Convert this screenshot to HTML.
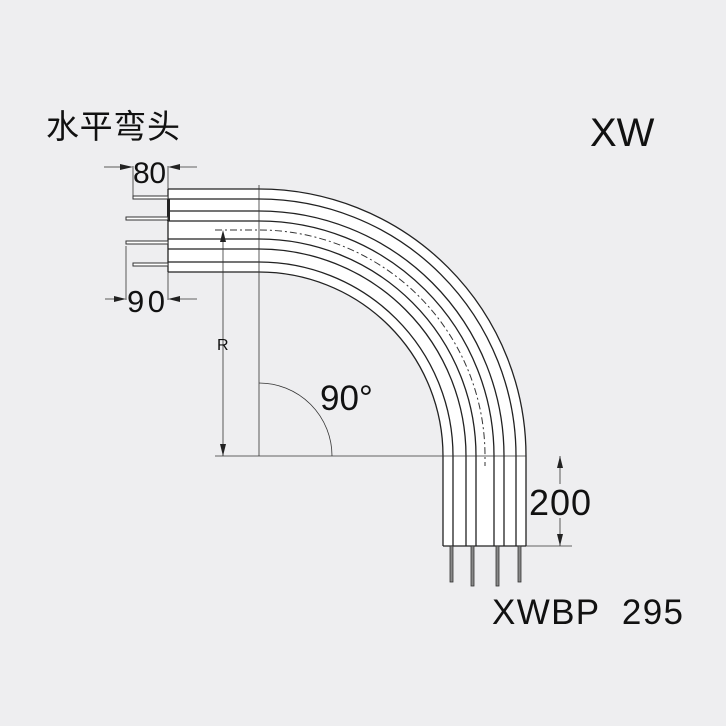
<!DOCTYPE html>
<html><head><meta charset="utf-8"><style>
html,body{margin:0;padding:0;background:#eeeef0;}
svg{display:block}
text{font-family:"Liberation Sans","Noto Sans CJK SC",sans-serif;fill:#111}
</style></head><body>
<svg width="726" height="726" viewBox="0 0 726 726">
<rect width="726" height="726" fill="#eeeef0"/>
<text x="46" y="138" font-size="33" textLength="134">水平弯头</text>
<text x="590" y="146" font-size="40">XW</text>
<text x="492" y="624" font-size="35" textLength="191" lengthAdjust="spacing" style="white-space:pre">XWBP  295</text>
<path d="M168,189 H259 A267,267 0 0 1 526,456 V546 H443 V456 A184,184 0 0 0 259,272 H168 Z" fill="#fff"/>
<g fill="none" stroke="#222" stroke-width="1.3">
<path d="M168,189 H259 A267,267 0 0 1 526,456 V546"/>
<path d="M168,199 H259 A257,257 0 0 1 516,456 V546"/>
<path d="M168,211 H259 A245,245 0 0 1 504,456 V546"/>
<path d="M168,221 H259 A235,235 0 0 1 494,456 V546"/>
<path d="M168,239 H259 A217,217 0 0 1 476,456 V546"/>
<path d="M168,249 H259 A207,207 0 0 1 466,456 V546"/>
<path d="M168,262 H259 A194,194 0 0 1 453,456 V546"/>
<path d="M168,272 H259 A184,184 0 0 1 443,456 V546"/>
<path d="M168,189 V272"/>
<path d="M443,546 H526"/>
</g>
<path d="M215,230 H259 A226,226 0 0 1 485,456 V466" fill="none" stroke="#333" stroke-width="1" stroke-dasharray="7,3,2,3"/>
<rect x="167" y="199" width="3" height="22" fill="#222"/>
<g fill="#fff" stroke="#333" stroke-width="1">
<rect x="133" y="196" width="35" height="3"/>
<rect x="126" y="217" width="42" height="3"/>
<rect x="126" y="241" width="42" height="3"/>
<rect x="133" y="263" width="35" height="3"/>
</g>
<g fill="#888" stroke="#333" stroke-width="0.8">
<rect x="450" y="546" width="3" height="36"/>
<rect x="471" y="546" width="3" height="40"/>
<rect x="496" y="546" width="3" height="40"/>
<rect x="518" y="546" width="3" height="36"/>
</g>
<g stroke="#333" stroke-width="0.8" fill="none">
<line x1="259" y1="185" x2="259" y2="456"/>
<line x1="215" y1="456" x2="526" y2="456"/>
<path d="M259,383 A73,73 0 0 1 332,456"/>
<line x1="223" y1="232" x2="223" y2="456"/>
<line x1="133" y1="166" x2="133" y2="196"/>
<line x1="168" y1="166" x2="168" y2="189"/>
<line x1="104" y1="167" x2="120" y2="167"/>
<line x1="180" y1="167" x2="197" y2="167"/>
<line x1="126" y1="246" x2="126" y2="300"/>
<line x1="168" y1="272" x2="168" y2="300"/>
<line x1="105" y1="299" x2="114" y2="299"/>
<line x1="180" y1="299" x2="197" y2="299"/>
<line x1="526" y1="546" x2="572" y2="546"/>
<line x1="560" y1="456" x2="560" y2="484"/>
<line x1="560" y1="518" x2="560" y2="546"/>
</g>
<g fill="#222">
<path d="M133,167 l-13,-3 v6z"/>
<path d="M168,167 l12,-3 v6z"/>
<path d="M126,299 l-12,-3 v6z"/>
<path d="M168,299 l12,-3 v6z"/>
<path d="M223,230 l-3,12 h6z"/>
<path d="M223,456 l-3,-12 h6z"/>
<path d="M560,456 l-3,12 h6z"/>
<path d="M560,546 l-3,-12 h6z"/>
</g>
<text x="133" y="183" font-size="30" textLength="33">80</text>
<text x="127" y="312" font-size="31" textLength="38">90</text>
<text x="217" y="350" font-size="16">R</text>
<text x="320" y="410" font-size="35">90°</text>
<text x="529" y="515" font-size="36" textLength="62">200</text>
</svg>
</body></html>
